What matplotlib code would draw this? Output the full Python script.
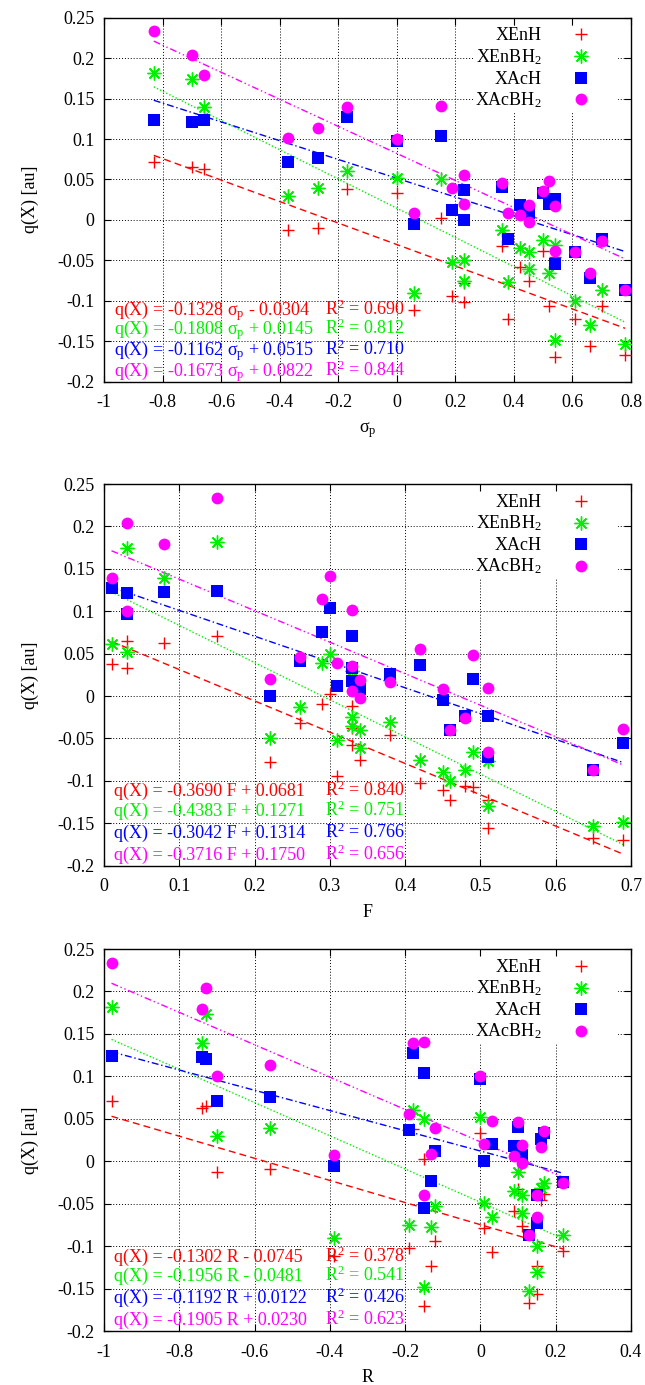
import matplotlib
matplotlib.use("Agg")
import matplotlib.pyplot as plt
import numpy as np
from matplotlib.patches import Rectangle
from matplotlib.ticker import FixedLocator, FuncFormatter

plt.rcParams["font.family"] = ["Liberation Serif", "DejaVu Serif"]
plt.rcParams["mathtext.fontset"] = "custom"
plt.rcParams["mathtext.rm"] = "Liberation Serif"
plt.rcParams["mathtext.it"] = "Liberation Serif:italic"
plt.rcParams["mathtext.bf"] = "Liberation Serif:bold"
plt.rcParams["axes.unicode_minus"] = False
plt.rcParams["font.size"] = 13

# substituent constants, one entry per substituent (same order everywhere)
sigma_p = np.array([-0.83, -0.70, -0.66, -0.37, -0.27, -0.17, 0.00, 0.15, 0.06,
                    0.19, 0.23, 0.23, 0.36, 0.38, 0.42, 0.45, 0.45, 0.50, 0.52,
                    0.54, 0.54, 0.61, 0.66, 0.70, 0.78])
field_f = np.array([0.15, 0.03, 0.08, 0.33, 0.29, 0.01, 0.03, 0.30, 0.45,
                    0.31, 0.42, 0.22, 0.26, 0.51, 0.33, 0.34, 0.34, 0.33, 0.49,
                    0.38, 0.69, 0.46, 0.51, 0.48, 0.65])
reson_r = np.array([-0.98, -0.73, -0.74, -0.70, -0.56, -0.18, 0.00, -0.15, -0.39,
                    -0.12, -0.19, 0.01, 0.10, -0.13, 0.09, 0.11, 0.11, 0.17, 0.03,
                    0.16, -0.15, 0.15, 0.15, 0.22, 0.13])

nan = np.nan
q_enh = np.array([0.071, 0.065, 0.063, -0.012, -0.0095, 0.038, 0.033, 0.0025, -0.111,
                  -0.094, -0.102, -0.078, -0.032, -0.123, -0.058, -0.0755, nan, -0.038, -0.107,
                  -0.046, -0.170, -0.123, -0.156, -0.106, -0.167])
q_enbh2 = np.array([0.182, 0.174, 0.139, 0.030, 0.039, 0.061, 0.052, 0.050, -0.090,
                    -0.052, -0.075, -0.049, -0.013, -0.077, -0.035, -0.040, -0.061, -0.025, -0.066,
                    -0.031, -0.148, -0.100, -0.130, -0.087, -0.153])
q_ach = np.array([0.124, 0.121, 0.123, 0.071, 0.076, 0.127, 0.097, 0.104, -0.005,
                  0.012, 0.037, 0.000, 0.041, -0.023, 0.018, 0.008, nan, 0.033, 0.020,
                  0.026, -0.055, -0.040, -0.072, -0.024, -0.087])
q_acbh2 = np.array([0.234, 0.204, 0.179, 0.101, 0.114, 0.139, 0.100, 0.141, 0.008,
                    0.039, 0.056, 0.020, 0.046, 0.009, 0.006, 0.019, -0.002, 0.036, 0.048,
                    0.017, -0.039, -0.040, -0.066, -0.026, -0.087])

series_labels = ["XEnH", "XEnBH$_2$", "XAcH", "XAcBH$_2$"]
series_q = [q_enh, q_enbh2, q_ach, q_acbh2]

# fitted slope, intercept, R^2 as printed on each panel
fit_sigma = [(-0.1328, -0.0304, 0.690), (-0.1808, 0.0145, 0.812),
             (-0.1162, 0.0515, 0.710), (-0.1673, 0.0822, 0.844)]
fit_f = [(-0.3690, 0.0681, 0.840), (-0.4383, 0.1271, 0.751),
         (-0.3042, 0.1314, 0.766), (-0.3716, 0.1750, 0.656)]
fit_r = [(-0.1302, -0.0745, 0.378), (-0.1956, -0.0481, 0.541),
         (-0.1192, 0.0122, 0.426), (-0.1905, 0.0230, 0.623)]

panels = [
    (sigma_p, fit_sigma, "σ$_\\mathrm{p}$", (-1, 0.8), np.arange(-1, 0.81, 0.2)),
    (field_f, fit_f, "F", (0, 0.7), np.arange(0, 0.71, 0.1)),
    (reson_r, fit_r, "R", (-1, 0.4), np.arange(-1, 0.41, 0.2)),
]

colors = ["#ff0000", "#00f000", "#0000ff", "#ff00ff"]
markers = [dict(marker="+", ms=9, mew=1.0),
           dict(marker=(8, 2, 0), ms=10, mew=1.0),
           dict(marker="s", ms=8.5, mew=0),
           dict(marker="o", ms=8.5, mew=0)]
dashes = [(0, (5, 3)), (0, (1, 1.5)), (0, (5, 2, 1, 2)), (0, (5, 2, 1, 2, 1, 2))]


def fmt(v, pos):
    if abs(v) < 1e-9:
        return "0"
    return f"{round(v, 3):g}"


W, H = 645, 1385
fig = plt.figure(figsize=(W / 100, H / 100), dpi=100)
boxes = [(17.7, 381.7), (484, 865.7), (949, 1331.3)]
left, right = 104, 631

for (xv, fits, xname, xlim, xticks), (top, bot) in zip(panels, boxes):
    hpx = bot - top
    ax = fig.add_axes([left / W, 1 - bot / H, (right - left) / W, hpx / H])
    ax.set_xlim(*xlim)
    ax.set_ylim(-0.2, 0.25)
    ax.xaxis.set_major_locator(FixedLocator(xticks))
    ax.yaxis.set_major_locator(FixedLocator(np.arange(-0.2, 0.251, 0.05)))
    ax.xaxis.set_major_formatter(FuncFormatter(fmt))
    ax.yaxis.set_major_formatter(FuncFormatter(fmt))
    ax.set_axisbelow(True)
    ax.grid(True, color="black", linestyle=(0, (1, 2)), linewidth=0.7)
    ax.tick_params(direction="in", length=5, width=0.8, top=True, right=True)
    ax.tick_params(axis="x", pad=9)
    ax.tick_params(axis="y", pad=7)
    for sp in ax.spines.values():
        sp.set_linewidth(1.0)

    for q, (a, b, r2), c, mk, ls in zip(series_q, fits, colors, markers, dashes):
        ok = ~np.isnan(q)
        xs = np.array([xv[ok].min(), xv[ok].max()])
        ax.plot(xs, a * xs + b, color=c, linestyle=ls, linewidth=1.0, zorder=2)
    for q, c, mk in zip(series_q, colors, markers):
        ax.plot(xv, q, linestyle="none", color=c, mfc=c, mec=c, zorder=3, **mk)

    # equations
    ytr = ax.get_yaxis_transform()
    for (a, b, r2), c, yb in zip(fits, colors, [-0.118, -0.141, -0.167, -0.193]):
        sign = "+" if b >= 0 else "-"
        ax.text(0.019, yb, f"q(X) = {a:.4f} {xname} {sign} {abs(b):.4f}",
                color=c, transform=ytr, va="baseline", ha="left", zorder=4)
        ax.text(0.419, yb, f"R$^2$ = {r2:.3f}", color=c, transform=ytr,
                va="baseline", ha="left", zorder=4)

    # key box
    ax.add_patch(Rectangle((0.702, 1 - 94 / hpx), 0.273, 86 / hpx,
                           transform=ax.transAxes, facecolor="white",
                           edgecolor="none", zorder=1))
    for lab, c, mk, off in zip(series_labels, colors, markers, [16.5, 38.5, 60, 81.7]):
        ax.text(0.8306, 1 - (off + 6) / hpx, lab, transform=ax.transAxes,
                ha="right", va="baseline", zorder=4)
        ax.plot([0.905], [1 - off / hpx], transform=ax.transAxes, linestyle="none",
                color=c, mfc=c, mec=c, clip_on=False, zorder=4, **mk)

    ax.set_xlabel(xname, va="baseline")
    ax.xaxis.set_label_coords(0.5, -51 / hpx)
    ax.set_ylabel("q(X) [au]", va="center")
    ax.yaxis.set_label_coords(-0.14, 0.5)

fig.savefig("out.png", dpi=100)
